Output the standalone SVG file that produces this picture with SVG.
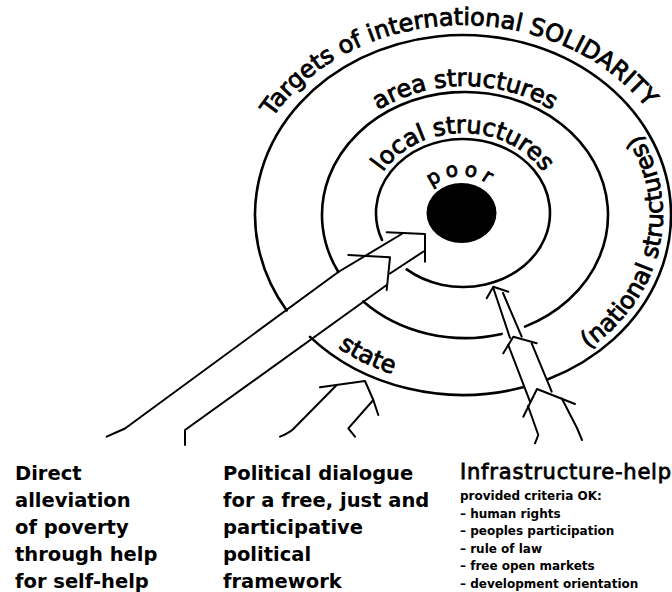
<svg xmlns="http://www.w3.org/2000/svg" width="672" height="592" viewBox="0 0 672 592">
<style>
.ring{fill:none;stroke:#000;stroke-width:2.6;stroke-linecap:round}
.arr{fill:none;stroke:#000;stroke-width:2;stroke-linecap:round;stroke-linejoin:round}
.arc{font-family:"DejaVu Sans",sans-serif;font-size:24px;fill:#000;stroke:#000;stroke-width:0.85}
.big{font-family:"DejaVu Sans",sans-serif;font-weight:bold;font-size:19.5px;fill:#000}
.mid{font-family:"DejaVu Sans",sans-serif;font-size:21px;fill:#000;stroke:#000;stroke-width:0.8;letter-spacing:0.8px}
.small{font-family:"DejaVu Sans",sans-serif;font-weight:bold;font-size:12px;fill:#000}
</style>
<defs>
<path id="pT" d="M 241 215 A 222 190 0 0 1 685 215"/>
<path id="pA" d="M 316 215 A 149 129 0 0 1 614 215"/>
<path id="pL" d="M 370 213 A 93 80 0 0 1 556 213"/>
<path id="pP" d="M 419.5 213 A 42 37 0 0 1 503.5 213"/>
<path id="pS" d="M 338 347.8 A 200 170 0 0 0 463 385"/>
<path id="pN" d="M 588 349.2 A 200 172 0 0 0 604.4 93.4"/>
</defs>
<rect width="672" height="592" fill="#fff"/>
<g id="target">
<path class="ring" d="M 310 336.9 A 208 180 0 0 0 523 387.3"/>
<path class="ring" d="M 548 379.3 A 208 180 0 1 0 286.7 310.5"/>
<path class="ring" d="M 363.3 301.5 A 143 123 0 0 0 501.7 333.9"/>
<path class="ring" d="M 525 326.6 A 143 123 0 1 0 338.3 272"/>
<path class="ring" d="M 406.7 269.4 A 87 74 0 1 0 382 240"/>
<ellipse cx="461.5" cy="213" rx="35" ry="30" fill="#000"/>
</g>
<g id="ring-labels">
<text class="arc" font-size="24.5"><textPath href="#pT" startOffset="318" text-anchor="middle">Targets of international SOLIDARITY</textPath></text>
<text class="arc"><textPath href="#pA" startOffset="50%" text-anchor="middle">area structures</textPath></text>
<text class="arc"><textPath href="#pL" startOffset="50%" text-anchor="middle">local structures</textPath></text>
<text class="arc" style="font-size:20px;letter-spacing:5px"><textPath href="#pP" startOffset="50%" text-anchor="middle">poor</textPath></text>
<text class="arc"><textPath href="#pS">state</textPath></text>
<text class="arc"><textPath href="#pN">(national structures)</textPath></text>
</g>
<g id="connectors">
<g id="arrow-direct">
<path class="arr" d="M 106.7 436.7 Q 117 432 125 428.5 L 338.3 272 L 401.7 234"/>
<path class="arr" d="M 185 445 L 185 430 L 386.7 285"/>
<path class="arr" d="M 390 273.5 L 423.5 251.5"/>
<path class="arr" d="M 348.3 255 L 390 257.3 L 386.7 290"/>
<path class="arr" d="M 386.7 232.3 L 425 234 L 425 261.7"/>
</g>
<g id="arrow-political">
<path class="arr" d="M 280 436.7 Q 289 433 293.3 429 L 336.7 385"/>
<path class="arr" d="M 320 387.3 L 365 381 L 373.3 400 L 378.3 415"/>
<path class="arr" d="M 373.3 400 L 348.3 428.3 L 355 436.7"/>
</g>
<g id="arrow-infrastructure">
<path class="arr" d="M 486.7 298.3 L 493.3 286.7 L 508.3 291.7"/>
<path class="arr" d="M 493.3 288 L 510 338"/>
<path class="arr" d="M 503 293 L 521.7 336.7"/>
<path class="arr" d="M 503.3 353.3 L 513.3 336.7 L 536.7 343.3"/>
<path class="arr" d="M 508.3 345 L 530 401.7"/>
<path class="arr" d="M 531.7 343.3 L 551.7 391.7"/>
<path class="arr" d="M 523.3 416.7 L 537 389 L 575 404"/>
<path class="arr" d="M 528 406 L 538.3 435 L 535 443.3"/>
<path class="arr" d="M 561.7 398.3 L 577 428 L 582 440"/>
</g>
</g>
<g id="label-direct">
<text class="big" x="15" y="480">Direct</text>
<text class="big" x="15" y="507">alleviation</text>
<text class="big" x="15" y="534">of poverty</text>
<text class="big" x="15" y="561">through help</text>
<text class="big" x="15" y="588">for self-help</text>
</g>
<g id="label-political">
<text class="big" x="223" y="480">Political dialogue</text>
<text class="big" x="223" y="507">for a free, just and</text>
<text class="big" x="223" y="534">participative</text>
<text class="big" x="223" y="561">political</text>
<text class="big" x="223" y="588">framework</text>
</g>
<g id="label-infrastructure">
<text class="mid" x="460" y="479">Infrastructure-help</text>
<text class="small" x="460" y="500">provided criteria OK:</text>
<text class="small" x="460" y="517.6">– human rights</text>
<text class="small" x="460" y="535.2">– peoples participation</text>
<text class="small" x="460" y="552.8">– rule of law</text>
<text class="small" x="460" y="570.4">– free open markets</text>
<text class="small" x="460" y="588">– development orientation</text>
</g>
</svg>
